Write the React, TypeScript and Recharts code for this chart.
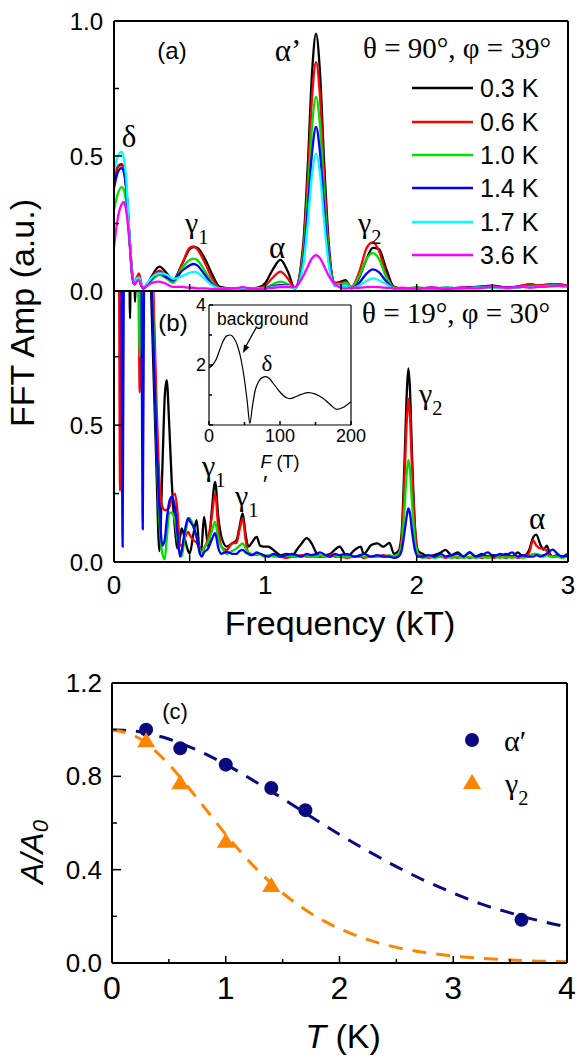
import React from "react";
import { LineChart, Line, XAxis, YAxis, ComposedChart, Scatter } from "recharts";

const SANS = '"Liberation Sans", Arial, Helvetica, sans-serif';
const SERIF = '"Liberation Serif", "Times New Roman", Times, serif';

// ---------- panel (a): theta = 90°, phi = 39° ----------
const freqA = [0, 0.025, 0.05, 0.065, 0.08, 0.1, 0.12, 0.135, 0.15, 0.165,
  0.18, 0.195, 0.22, 0.25, 0.3, 0.35, 0.39, 0.45, 0.5, 0.525,
  0.55, 0.6, 0.65, 0.7, 0.8, 0.85, 0.9, 0.95, 1.0, 1.05,
  1.1, 1.15, 1.195, 1.25, 1.28, 1.31, 1.335, 1.36, 1.39, 1.42,
  1.46, 1.5, 1.53, 1.57, 1.62, 1.67, 1.71, 1.75, 1.8, 1.85,
  1.9, 2.0, 2.1, 2.2, 2.3, 2.4, 2.5, 2.6, 2.7, 2.75,
  2.8, 2.9, 3.0];
const ampA03 = [0.40, 0.46, 0.47, 0.45, 0.39, 0.22, 0.06, 0.025, 0.04, 0.05,
  0.02, 0.01, 0.025, 0.055, 0.09, 0.065, 0.04, 0.10, 0.155, 0.163,
  0.16, 0.12, 0.06, 0.015, 0.008, 0.01, 0.01, 0.012, 0.03, 0.08,
  0.115, 0.07, 0.01, 0.17, 0.46, 0.82, 0.953, 0.82, 0.46, 0.17,
  0.03, 0.035, 0.04, 0.01, 0.05, 0.12, 0.16, 0.155, 0.08, 0.015,
  0.01, 0.012, 0.01, 0.012, 0.01, 0.015, 0.02, 0.012, 0.02, 0.025,
  0.02, 0.025, 0.02];
const ampA06 = [0.42, 0.46, 0.465, 0.45, 0.39, 0.22, 0.07, 0.03, 0.05, 0.065,
  0.03, 0.012, 0.025, 0.05, 0.075, 0.055, 0.035, 0.10, 0.16, 0.165,
  0.155, 0.105, 0.045, 0.01, 0.008, 0.01, 0.01, 0.01, 0.02, 0.05,
  0.072, 0.045, 0.01, 0.15, 0.41, 0.73, 0.848, 0.73, 0.41, 0.15,
  0.03, 0.03, 0.035, 0.015, 0.07, 0.16, 0.18, 0.15, 0.06, 0.012,
  0.01, 0.01, 0.012, 0.01, 0.012, 0.015, 0.018, 0.012, 0.02, 0.025,
  0.02, 0.025, 0.02];
const ampA10 = [0.30, 0.36, 0.385, 0.375, 0.33, 0.20, 0.06, 0.025, 0.04, 0.045,
  0.02, 0.01, 0.02, 0.04, 0.06, 0.045, 0.03, 0.085, 0.115, 0.12,
  0.115, 0.075, 0.03, 0.01, 0.008, 0.01, 0.01, 0.01, 0.012, 0.025,
  0.035, 0.025, 0.01, 0.13, 0.35, 0.62, 0.719, 0.62, 0.35, 0.13,
  0.025, 0.025, 0.03, 0.015, 0.055, 0.12, 0.14, 0.12, 0.05, 0.012,
  0.01, 0.012, 0.01, 0.012, 0.01, 0.012, 0.015, 0.01, 0.015, 0.02,
  0.018, 0.02, 0.018];
const ampA14 = [0.38, 0.44, 0.455, 0.44, 0.38, 0.22, 0.06, 0.025, 0.04, 0.045,
  0.02, 0.01, 0.025, 0.045, 0.065, 0.05, 0.04, 0.075, 0.095, 0.10,
  0.095, 0.06, 0.025, 0.01, 0.008, 0.01, 0.01, 0.01, 0.01, 0.018,
  0.022, 0.02, 0.01, 0.11, 0.30, 0.52, 0.608, 0.52, 0.30, 0.11,
  0.02, 0.02, 0.02, 0.01, 0.03, 0.065, 0.08, 0.07, 0.035, 0.01,
  0.01, 0.01, 0.012, 0.01, 0.012, 0.012, 0.012, 0.012, 0.015, 0.018,
  0.015, 0.02, 0.015];
const ampA17 = [0.44, 0.50, 0.515, 0.49, 0.42, 0.23, 0.07, 0.03, 0.045, 0.05,
  0.025, 0.015, 0.03, 0.05, 0.065, 0.06, 0.045, 0.055, 0.068, 0.071,
  0.068, 0.045, 0.02, 0.01, 0.008, 0.01, 0.01, 0.01, 0.01, 0.015,
  0.018, 0.018, 0.01, 0.095, 0.25, 0.44, 0.509, 0.44, 0.25, 0.095,
  0.02, 0.02, 0.02, 0.01, 0.02, 0.038, 0.047, 0.04, 0.025, 0.01,
  0.01, 0.01, 0.01, 0.012, 0.01, 0.012, 0.012, 0.01, 0.015, 0.015,
  0.015, 0.02, 0.015];
const ampA36 = [0.16, 0.27, 0.32, 0.33, 0.30, 0.20, 0.06, 0.025, 0.035, 0.04,
  0.02, 0.012, 0.02, 0.03, 0.035, 0.025, 0.015, 0.015, 0.012, 0.012,
  0.01, 0.01, 0.008, 0.008, 0.01, 0.014, 0.01, 0.008, 0.01, 0.012,
  0.014, 0.014, 0.015, 0.055, 0.09, 0.122, 0.133, 0.122, 0.09, 0.055,
  0.025, 0.012, 0.01, 0.012, 0.012, 0.014, 0.015, 0.014, 0.012, 0.01,
  0.012, 0.01, 0.012, 0.01, 0.012, 0.01, 0.015, 0.012, 0.015, 0.012,
  0.015, 0.018, 0.02];

const seriesA = [
  { key: "k03", label: "0.3 K", color: "#000000", values: ampA03 },
  { key: "k06", label: "0.6 K", color: "#ff0000", values: ampA06 },
  { key: "k10", label: "1.0 K", color: "#00e000", values: ampA10 },
  { key: "k14", label: "1.4 K", color: "#0000ff", values: ampA14 },
  { key: "k17", label: "1.7 K", color: "#00ffff", values: ampA17 },
  { key: "k36", label: "3.6 K", color: "#ff00ff", values: ampA36 },
];

// ---------- panel (b): theta = 19°, phi = 30° ----------
const freqB = [0, 0.03, 0.04, 0.048, 0.057, 0.066, 0.09, 0.1, 0.106, 0.112,
  0.13, 0.139, 0.148, 0.16, 0.17, 0.18, 0.19, 0.2, 0.22, 0.25,
  0.28, 0.3, 0.32, 0.335, 0.348, 0.365, 0.381, 0.403, 0.42, 0.436,
  0.447, 0.47, 0.49, 0.5, 0.524, 0.546, 0.568, 0.58, 0.595, 0.623,
  0.645, 0.668, 0.69, 0.71, 0.745, 0.78, 0.81, 0.83, 0.85, 0.87,
  0.888, 0.91, 0.943, 0.965, 0.987, 1.02, 1.053, 1.1, 1.14, 1.18,
  1.207, 1.24, 1.273, 1.306, 1.34, 1.36, 1.4, 1.43, 1.46, 1.49,
  1.54, 1.59, 1.63, 1.65, 1.7, 1.74, 1.78, 1.82, 1.85, 1.88,
  1.9, 1.92, 1.935, 1.945, 1.955, 1.97, 1.99, 2.01, 2.04, 2.08,
  2.12, 2.16, 2.19, 2.23, 2.27, 2.31, 2.35, 2.39, 2.43, 2.47,
  2.51, 2.55, 2.59, 2.63, 2.67, 2.7, 2.74, 2.77, 2.79, 2.82,
  2.84, 2.86, 2.88, 2.9, 2.93, 2.96, 3.0];
const ampB03 = [1.5, 1.5, 1.5, 1.5, 1.5, 1.5, 1.5, 1.2, 0.89, 1.2,
  1.2, 0.95, 1.2, 1.5, 1.5, 1.5, 1.5, 1.5, 1.4, 0.9,
  0.35, 0.04, 0.35, 0.6, 0.664, 0.5, 0.3, 0.12, 0.05, 0.09,
  0.123, 0.08, 0.04, 0.03, 0.1, 0.153, 0.03, 0.06, 0.165, 0.056,
  0.18, 0.293, 0.16, 0.092, 0.056, 0.068, 0.08, 0.13, 0.178, 0.1,
  0.056, 0.07, 0.092, 0.06, 0.056, 0.056, 0.044, 0.025, 0.03, 0.025,
  0.044, 0.068, 0.087, 0.068, 0.03, 0.02, 0.025, 0.03, 0.045, 0.056,
  0.02, 0.044, 0.056, 0.03, 0.062, 0.068, 0.056, 0.07, 0.03, 0.04,
  0.1, 0.37, 0.62, 0.707, 0.64, 0.38, 0.12, 0.04, 0.03, 0.02,
  0.026, 0.035, 0.044, 0.025, 0.035, 0.02, 0.035, 0.02, 0.03, 0.02,
  0.025, 0.02, 0.03, 0.02, 0.035, 0.02, 0.04, 0.09, 0.1, 0.06,
  0.045, 0.06, 0.03, 0.02, 0.025, 0.02, 0.03];
const ampB06 = [1.5, 1.5, 0.26, 1.5, 1.5, 1.5, 1.5, 1.5, 1.5, 1.5,
  1.5, 1.5, 1.5, 1.2, 0.62, 1.2, 1.5, 1.5, 1.5, 1.2,
  0.6, 0.3, 0.2, 0.19, 0.19, 0.2, 0.23, 0.25, 0.18, 0.06,
  0.06, 0.09, 0.11, 0.1, 0.08, 0.07, 0.05, 0.04, 0.05, 0.09,
  0.16, 0.25, 0.12, 0.056, 0.044, 0.068, 0.07, 0.12, 0.16, 0.08,
  0.03, 0.025, 0.03, 0.03, 0.025, 0.02, 0.025, 0.02, 0.015, 0.02,
  0.02, 0.025, 0.02, 0.02, 0.02, 0.02, 0.02, 0.025, 0.02, 0.02,
  0.015, 0.02, 0.02, 0.015, 0.02, 0.02, 0.025, 0.02, 0.02, 0.03,
  0.08, 0.31, 0.52, 0.597, 0.54, 0.33, 0.11, 0.03, 0.02, 0.015,
  0.02, 0.02, 0.015, 0.02, 0.015, 0.02, 0.015, 0.02, 0.015, 0.02,
  0.015, 0.02, 0.015, 0.02, 0.015, 0.02, 0.03, 0.08, 0.06, 0.05,
  0.05, 0.04, 0.025, 0.02, 0.02, 0.02, 0.025];
const ampB10 = [1.5, 1.5, 1.5, 1.5, 1.5, 1.5, 1.5, 1.5, 1.5, 1.5,
  1.5, 1.5, 1.5, 1.3, 0.75, 1.3, 1.5, 1.5, 1.5, 1.1,
  0.45, 0.15, 0.03, 0.01, 0.08, 0.18, 0.18, 0.15, 0.08, 0.03,
  0.02, 0.1, 0.155, 0.16, 0.13, 0.09, 0.04, 0.035, 0.05, 0.075,
  0.11, 0.147, 0.08, 0.056, 0.03, 0.04, 0.05, 0.06, 0.068, 0.05,
  0.035, 0.03, 0.025, 0.03, 0.02, 0.025, 0.02, 0.02, 0.025, 0.02,
  0.02, 0.02, 0.025, 0.02, 0.02, 0.025, 0.02, 0.02, 0.025, 0.02,
  0.02, 0.02, 0.025, 0.02, 0.02, 0.02, 0.02, 0.025, 0.02, 0.03,
  0.06, 0.2, 0.33, 0.372, 0.34, 0.21, 0.07, 0.03, 0.015, 0.02,
  0.015, 0.02, 0.02, 0.015, 0.02, 0.015, 0.02, 0.015, 0.02, 0.015,
  0.02, 0.015, 0.02, 0.015, 0.02, 0.015, 0.02, 0.03, 0.03, 0.025,
  0.02, 0.025, 0.02, 0.02, 0.02, 0.015, 0.02];
const ampB14 = [1.5, 1.5, 1.5, 1.2, 0.056, 1.2, 1.5, 1.5, 1.5, 1.5,
  1.5, 1.5, 1.5, 1.5, 1.5, 1.2, 0.12, 1.2, 1.5, 1.0,
  0.45, 0.2, 0.06, 0.08, 0.15, 0.22, 0.238, 0.2, 0.1, 0.02,
  0.04, 0.12, 0.16, 0.15, 0.13, 0.09, 0.03, 0.02, 0.035, 0.05,
  0.08, 0.105, 0.05, 0.03, 0.037, 0.03, 0.03, 0.04, 0.044, 0.035,
  0.03, 0.025, 0.035, 0.03, 0.025, 0.02, 0.03, 0.02, 0.025, 0.03,
  0.025, 0.02, 0.03, 0.025, 0.03, 0.035, 0.025, 0.02, 0.03, 0.025,
  0.03, 0.02, 0.025, 0.03, 0.02, 0.025, 0.02, 0.02, 0.015, 0.02,
  0.04, 0.11, 0.17, 0.196, 0.18, 0.11, 0.04, 0.02, 0.02, 0.025,
  0.02, 0.03, 0.02, 0.025, 0.03, 0.02, 0.035, 0.02, 0.025, 0.035,
  0.02, 0.03, 0.025, 0.035, 0.02, 0.025, 0.02, 0.02, 0.025, 0.02,
  0.025, 0.03, 0.04, 0.045, 0.03, 0.02, 0.025];

const seriesB = [
  { key: "k03", color: "#000000", values: ampB03 },
  { key: "k06", color: "#ff0000", values: ampB06 },
  { key: "k10", color: "#00e000", values: ampB10 },
  { key: "k14", color: "#0000ff", values: ampB14 },
];

// inset: low-frequency background, F in T
const insetF = [0, 5, 10, 15, 20, 25, 30, 35, 40, 45, 50, 54, 57.5, 61, 65, 70, 75, 80, 85, 90,
  95, 100, 110, 115, 120, 130, 140, 150, 160, 170, 180, 190, 200];
const insetAmp = [1.9, 2.0, 2.18, 2.5, 2.8, 2.97, 3.0, 2.9, 2.65, 2.2, 1.5, 0.75, 0.05, 0.6, 1.15, 1.45, 1.58, 1.61, 1.55, 1.4,
  1.25, 1.1, 0.9, 0.88, 0.92, 1.02, 1.08, 1.03, 0.9, 0.7, 0.52, 0.6, 0.78];

// ---------- panel (c): A/A0 vs T ----------
const tempAlphaP = [0.3, 0.6, 1.0, 1.4, 1.7, 3.6];
const ampAlphaP = [1.0, 0.92, 0.85, 0.75, 0.655, 0.185];
const tempGamma2 = [0.3, 0.6, 1.0, 1.4];
const ampGamma2 = [0.95, 0.77, 0.52, 0.33];
const tempFit = [0, 0.25, 0.5, 0.75, 1, 1.25, 1.5, 1.75, 2, 2.25, 2.5, 2.75, 3, 3.25, 3.5, 3.75, 4];
const fitAlphaP = [1.0, 0.99, 0.96, 0.912, 0.851, 0.78, 0.705, 0.627, 0.551, 0.48, 0.413, 0.353, 0.3, 0.252, 0.215, 0.182, 0.155];
const fitGamma2 = [1.0, 0.96, 0.851, 0.705, 0.551, 0.413, 0.3, 0.212, 0.147, 0.1, 0.067, 0.045, 0.03, 0.02, 0.013, 0.008, 0.005];

const NAVY = "#0a0a80";
const ORANGE = "#ff8400";

const freqTicks = [0, 0.5, 1, 1.5, 2, 2.5, 3];
const tempTicks = [0, 0.5, 1, 1.5, 2, 2.5, 3, 3.5, 4];

const rowsA = freqA.map((f, i) => {
  const r: any = { f };
  seriesA.forEach((s) => (r[s.key] = s.values[i]));
  return r;
});
const rowsB = freqB.map((f, i) => {
  const r: any = { f };
  seriesB.forEach((s) => (r[s.key] = s.values[i]));
  return r;
});
const rowsInset = insetF.map((f, i) => ({ f, v: insetAmp[i] }));
const rowsFitA = tempFit.map((t, i) => ({ t, v: fitAlphaP[i] }));
const rowsFitG = tempFit.map((t, i) => ({ t, v: fitGamma2[i] }));
const ptsA = tempAlphaP.map((t, i) => ({ t, v: ampAlphaP[i] }));
const ptsG = tempGamma2.map((t, i) => ({ t, v: ampGamma2[i] }));

const AXIS = { stroke: "#000", strokeWidth: 2 };
const THIN = { stroke: "#000", strokeWidth: 1.2 };
const near = (list: number[], v: number) => list.some((m) => Math.abs(m - v) < 1e-6);

// inward ticks, labels outside
function yTick(side: "left" | "right", majors: number[], labels: number[], size: number, gap: number, len = 8, minor = 5, fmt = (v: number) => v.toFixed(1)) {
  return (p: any) => {
    const v = p.payload.value;
    const l = near(majors, v) ? len : minor;
    const d = side === "left" ? 1 : -1;
    return (
      <g>
        <line x1={p.x} x2={p.x + d * l} y1={p.y} y2={p.y} stroke="#000" strokeWidth={1.5} />
        {side === "left" && near(labels, v) && (
          <text x={p.x - gap} y={p.y} textAnchor="end" dominantBaseline="central" fontSize={size} fontFamily={SANS} fill="#000">
            {fmt(v)}
          </text>
        )}
      </g>
    );
  };
}

function xTick(majors: number[], labels: number[], size: number, gap: number, len = 8, minor = 5) {
  return (p: any) => {
    const v = p.payload.value;
    const l = near(majors, v) ? len : minor;
    return (
      <g>
        <line x1={p.x} x2={p.x} y1={p.y} y2={p.y - l} stroke="#000" strokeWidth={1.5} />
        {near(labels, v) && (
          <text x={p.x} y={p.y + gap} textAnchor="middle" dominantBaseline="central" fontSize={size} fontFamily={SANS} fill="#000">
            {String(v)}
          </text>
        )}
      </g>
    );
  };
}

function Circle(p: any) {
  return <circle cx={p.cx} cy={p.cy} r={7} fill={NAVY} />;
}
function Triangle(p: any) {
  const { cx, cy } = p;
  return <polygon points={`${cx},${cy - 9} ${cx - 9},${cy + 6} ${cx + 9},${cy + 6}`} fill={ORANGE} />;
}

function GreekSub({ x, y, g, sub, size = 30 }: { x: number; y: number; g: string; sub: string; size?: number }) {
  return (
    <text x={x} y={y} fontSize={size} fontFamily={SERIF} dominantBaseline="central" fill="#000">
      {g}
      <tspan fontSize={size * 0.68} dy={size * 0.5}>{sub}</tspan>
    </text>
  );
}

// axes are 1px wide/high (0 would hide them), margins take that pixel back
export default function App() {
  const legendRows = [88, 122, 155, 188, 222, 255];
  return (
    <div style={{ position: "absolute", left: 0, top: 0, width: 581, height: 1058, background: "#fff", overflow: "hidden" }}>
      {/* (a) */}
      <div style={{ position: "absolute", left: 0, top: 0 }}>
        <LineChart width={581} height={310} data={rowsA} margin={{ top: 20, right: 12, bottom: 18, left: 113 }}>
          <XAxis dataKey="f" type="number" domain={[0, 3]} ticks={freqTicks} interval={0} height={1}
            tickSize={0} tickMargin={0} tickLine={false} axisLine={AXIS} tick={xTick([0, 1, 2, 3], [], 24, 0, 7, 7)} />
          <XAxis xAxisId="top" orientation="top" dataKey="f" type="number" domain={[0, 3]} height={1} tick={false} tickLine={false} axisLine={AXIS} />
          <YAxis type="number" domain={[0, 1]} ticks={[0, 0.25, 0.5, 0.75, 1]} interval={0} width={1}
            tickSize={0} tickMargin={0} tickLine={false} axisLine={AXIS} tick={yTick("left", [0, 0.5, 1], [0, 0.5, 1], 24, 11, 8, 5)} />
          <YAxis yAxisId="r" orientation="right" type="number" domain={[0, 1]} width={1} tick={false} tickLine={false} axisLine={AXIS} />
          {seriesA.map((s) => (
            <Line key={s.key} dataKey={s.key} type="monotone" stroke={s.color} strokeWidth={2.3} dot={false} isAnimationActive={false} />
          ))}
        </LineChart>
      </div>
      {/* (b) */}
      <div style={{ position: "absolute", left: 0, top: 285 }}>
        <LineChart width={581} height={330} data={rowsB} margin={{ top: 5, right: 12, bottom: 52, left: 113 }}>
          <XAxis dataKey="f" type="number" domain={[0, 3]} ticks={freqTicks} interval={0} height={1}
            tickSize={0} tickMargin={0} tickLine={false} axisLine={AXIS} tick={xTick([0, 1, 2, 3], [0, 1, 2, 3], 26, 23, 7, 7)} />
          <XAxis xAxisId="top" orientation="top" dataKey="f" type="number" domain={[0, 3]} height={1} tick={false} tickLine={false} axisLine={AXIS} />
          <YAxis type="number" domain={[0, 0.99]} allowDataOverflow ticks={[0, 0.25, 0.5, 0.75]} interval={0} width={1}
            tickSize={0} tickMargin={0} tickLine={false} axisLine={AXIS} tick={yTick("left", [0, 0.5], [0, 0.5], 24, 11, 8, 5)} />
          <YAxis yAxisId="r" orientation="right" type="number" domain={[0, 0.99]} ticks={[0.25, 0.5, 0.75]} interval={0} width={1}
            tickSize={0} tickMargin={0} tickLine={false} axisLine={AXIS} tick={yTick("right", [0.5], [], 24, 0, 6, 5)} />
          {seriesB.map((s) => (
            <Line key={s.key} dataKey={s.key} type="monotone" stroke={s.color} strokeWidth={2.3} dot={false} isAnimationActive={false} />
          ))}
        </LineChart>
      </div>
      {/* inset */}
      <div style={{ position: "absolute", left: 180, top: 295 }}>
        <LineChart width={190} height={185} data={rowsInset} margin={{ top: 9, right: 18, bottom: 54, left: 28 }}>
          <XAxis dataKey="f" type="number" domain={[0, 200]} ticks={[0, 50, 100, 150, 200]} interval={0} height={1}
            tickSize={0} tickMargin={0} tickLine={false} axisLine={THIN} tick={xTick([0, 100, 200], [0, 100, 200], 18, 11, 4, 3)} />
          <XAxis xAxisId="top" orientation="top" dataKey="f" type="number" domain={[0, 200]} height={1} tick={false} tickLine={false} axisLine={THIN} />
          <YAxis type="number" domain={[0, 4]} ticks={[0, 1, 2, 3, 4]} interval={0} width={1}
            tickSize={0} tickMargin={0} tickLine={false} axisLine={THIN}
            tick={yTick("left", [0, 2, 4], [2, 4], 18, 3, 4, 3, (v) => String(v))} />
          <YAxis yAxisId="r" orientation="right" type="number" domain={[0, 4]} width={1} tick={false} tickLine={false} axisLine={THIN} />
          <Line dataKey="v" type="monotone" stroke="#000" strokeWidth={1.2} dot={false} isAnimationActive={false} />
        </LineChart>
      </div>
      {/* (c) */}
      <div style={{ position: "absolute", left: 0, top: 650 }}>
        <ComposedChart width={581} height={408} margin={{ top: 32, right: 13, bottom: 94, left: 111 }}>
          <XAxis dataKey="t" type="number" domain={[0, 4]} ticks={tempTicks} interval={0} height={1}
            tickSize={0} tickMargin={0} tickLine={false} axisLine={AXIS} tick={xTick([0, 1, 2, 3, 4], [0, 1, 2, 3, 4], 32, 25, 7, 4)} />
          <XAxis xAxisId="top" orientation="top" dataKey="t" type="number" domain={[0, 4]} height={1} tick={false} tickLine={false} axisLine={AXIS} />
          <YAxis type="number" domain={[0, 1.2]} ticks={[0, 0.2, 0.4, 0.6, 0.8, 1.0, 1.2]} interval={0} width={1}
            tickSize={0} tickMargin={0} tickLine={false} axisLine={AXIS} tick={yTick("left", [0, 0.4, 0.8, 1.2], [0, 0.4, 0.8, 1.2], 26, 10, 9, 5)} />
          <YAxis yAxisId="r" orientation="right" type="number" domain={[0, 1.2]} ticks={[0.2, 0.4, 0.6, 0.8, 1.0]} interval={0} width={1}
            tickSize={0} tickMargin={0} tickLine={false} axisLine={AXIS} tick={yTick("right", [0.4, 0.8], [], 26, 0, 9, 6)} />
          <Line data={rowsFitA} dataKey="v" type="monotone" stroke={NAVY} strokeWidth={3} strokeDasharray="14 10" dot={false} isAnimationActive={false} />
          <Line data={rowsFitG} dataKey="v" type="monotone" stroke={ORANGE} strokeWidth={3} strokeDasharray="14 10" dot={false} isAnimationActive={false} />
          <Scatter data={ptsA} dataKey="v" shape={Circle} isAnimationActive={false} />
          <Scatter data={ptsG} dataKey="v" shape={Triangle} isAnimationActive={false} />
        </ComposedChart>
      </div>

      {/* annotations */}
      <svg width={581} height={1058} style={{ position: "absolute", left: 0, top: 0, pointerEvents: "none" }}>
        {/* axis titles */}
        <text transform="rotate(-90 22 313)" x={22} y={313} textAnchor="middle" dominantBaseline="central" fontSize={34} fontFamily={SANS}>FFT Amp (a.u.)</text>
        <text x={340} y={623} textAnchor="middle" dominantBaseline="central" fontSize={34} fontFamily={SANS}>Frequency (kT)</text>
        <text x={343} y={1036} textAnchor="middle" dominantBaseline="central" fontSize={34} fontFamily={SANS}>
          <tspan fontStyle="italic">T</tspan> (K)
        </text>
        <text transform="rotate(-90 32 852)" x={32} y={852} textAnchor="middle" dominantBaseline="central" fontSize={32} fontFamily={SANS} fontStyle="italic">
          A/A<tspan fontSize={22} dy={8}>0</tspan>
        </text>

        {/* panel (a) */}
        <text x={172} y={50} textAnchor="middle" dominantBaseline="central" fontSize={24} fontFamily={SANS}>(a)</text>
        <text x={363} y={48} dominantBaseline="central" fontSize={29} fontFamily={SERIF}>θ = 90°, φ = 39°</text>
        <text x={129} y={136} textAnchor="middle" dominantBaseline="central" fontSize={31} fontFamily={SERIF}>δ</text>
        <GreekSub x={185} y={222} g="γ" sub="1" />
        <text x={277} y={247} textAnchor="middle" dominantBaseline="central" fontSize={31} fontFamily={SERIF}>α</text>
        <text x={288} y={50} textAnchor="middle" dominantBaseline="central" fontSize={31} fontFamily={SERIF}>α’</text>
        <GreekSub x={358} y={222} g="γ" sub="2" />
        {seriesA.map((s, i) => (
          <g key={s.key}>
            <line x1={412} x2={473} y1={legendRows[i]} y2={legendRows[i]} stroke={s.color} strokeWidth={2.5} />
            <text x={480} y={legendRows[i]} dominantBaseline="central" fontSize={25} fontFamily={SANS}>{s.label}</text>
          </g>
        ))}

        {/* panel (b) */}
        <text x={173} y={322} textAnchor="middle" dominantBaseline="central" fontSize={24} fontFamily={SANS}>(b)</text>
        <text x={362} y={313} dominantBaseline="central" fontSize={29} fontFamily={SERIF}>θ = 19°, φ = 30°</text>
        <GreekSub x={202} y={465} g="γ" sub="1" />
        <GreekSub x={235} y={495} g="γ" sub="1" />
        <text x={264} y={484} textAnchor="middle" dominantBaseline="central" fontSize={24} fontFamily={SANS} fontStyle="italic">′</text>
        <GreekSub x={419} y={393} g="γ" sub="2" />
        <text x={537} y={518} textAnchor="middle" dominantBaseline="central" fontSize={31} fontFamily={SERIF}>α</text>

        {/* inset */}
        <text x={217} y={319} dominantBaseline="central" fontSize={17.5} fontFamily={SANS}>background</text>
        <line x1={256} y1={328} x2={246} y2={346} stroke="#000" strokeWidth={1.3} />
        <polygon points="243,353 249.4,347.3 244,344.5" fill="#000" />
        <text x={267} y={363} textAnchor="middle" dominantBaseline="central" fontSize={23} fontFamily={SERIF}>δ</text>
        <text x={280} y={462} textAnchor="middle" dominantBaseline="central" fontSize={18} fontFamily={SANS}>
          <tspan fontStyle="italic">F</tspan> (T)
        </text>

        {/* panel (c) */}
        <text x={175} y={711} textAnchor="middle" dominantBaseline="central" fontSize={22} fontFamily={SANS}>(c)</text>
        <circle cx={472} cy={740} r={7} fill={NAVY} />
        <text x={504} y={740} dominantBaseline="central" fontSize={30} fontFamily={SERIF}>α′</text>
        <polygon points="472,774 463,789 481,789" fill={ORANGE} />
        <GreekSub x={505} y={783} g="γ" sub="2" />
      </svg>
    </div>
  );
}
